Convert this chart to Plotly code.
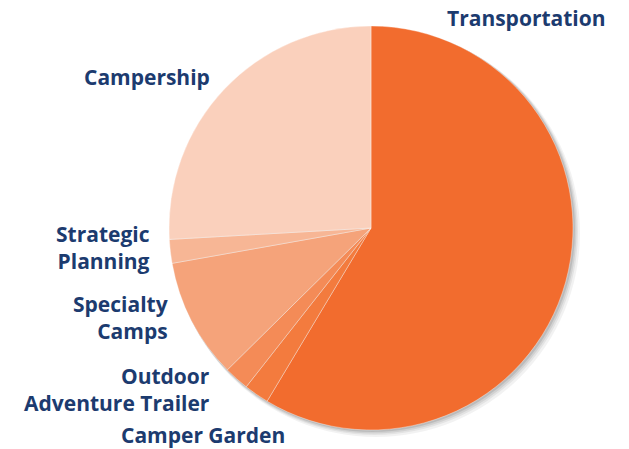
import plotly.graph_objects as go

categories = ["Transportation", "Camper Garden", "Outdoor Adventure Trailer",
              "Specialty Camps", "Strategic Planning", "Campership"]
values = [58.6, 2.0, 2.0, 9.6, 1.9, 25.9]
colors = ["#F26C2E", "#F37B3E", "#F48B57", "#F5A37A", "#F7B695", "#FAD0BC"]
label_texts = ["Transportation", "Camper Garden", "Outdoor<br>Adventure Trailer",
               "Specialty<br>Camps", "Strategic<br>Planning", "Campership"]

W, H = 629, 449
cx, cy, r = 371, 228, 202

fig = go.Figure()
fig.add_trace(go.Pie(
    labels=categories, values=values, sort=False, direction="clockwise", rotation=0,
    marker=dict(colors=colors, line=dict(color="rgba(255,255,255,0.6)", width=0.6)),
    textinfo="none", hoverinfo="label+percent", showlegend=False,
    domain=dict(x=[(cx - r) / W, (cx + r) / W], y=[1 - (cy + r) / H, 1 - (cy - r) / H]),
))

# soft drop shadow
shapes = []
for off, op in [(7, 0.05), (5, 0.06), (3.5, 0.08), (2, 0.10)]:
    shapes.append(dict(type="circle", xref="paper", yref="paper", layer="below",
                       x0=(cx - r + off * 0.4) / W, x1=(cx + r + off) / W,
                       y0=1 - (cy + r + off) / H, y1=1 - (cy - r + off * 0.4) / H,
                       fillcolor=f"rgba(0,0,0,{op})", line=dict(width=0)))

# label placement (pixel coords: right edge x, vertical center y of the label block)
label_pos = {
    "Transportation": (608, 18),
    "Camper Garden": (287, 435),
    "Outdoor Adventure Trailer": (212, 389.5),
    "Specialty Camps": (170, 317),
    "Strategic Planning": (152, 247.5),
    "Campership": (212, 77),
}
annotations = []
for cat, txt in zip(categories, label_texts):
    x, y = label_pos[cat]
    annotations.append(dict(text=txt, x=x / W, y=1 - y / H,
                            xref="paper", yref="paper", xanchor="right", yanchor="middle",
                            align="right", showarrow=False,
                            font=dict(family="Open Sans", size=21, color="#1C3B6F",
                                      weight="bold")))

fig.update_layout(width=W, height=H, margin=dict(l=0, r=0, t=0, b=0),
                  paper_bgcolor="white", plot_bgcolor="white",
                  shapes=shapes, annotations=annotations)
fig.write_html("out.html", config={"displayModeBar": False},
               post_script="document.body.style.margin='0';document.body.style.overflow='hidden';")
